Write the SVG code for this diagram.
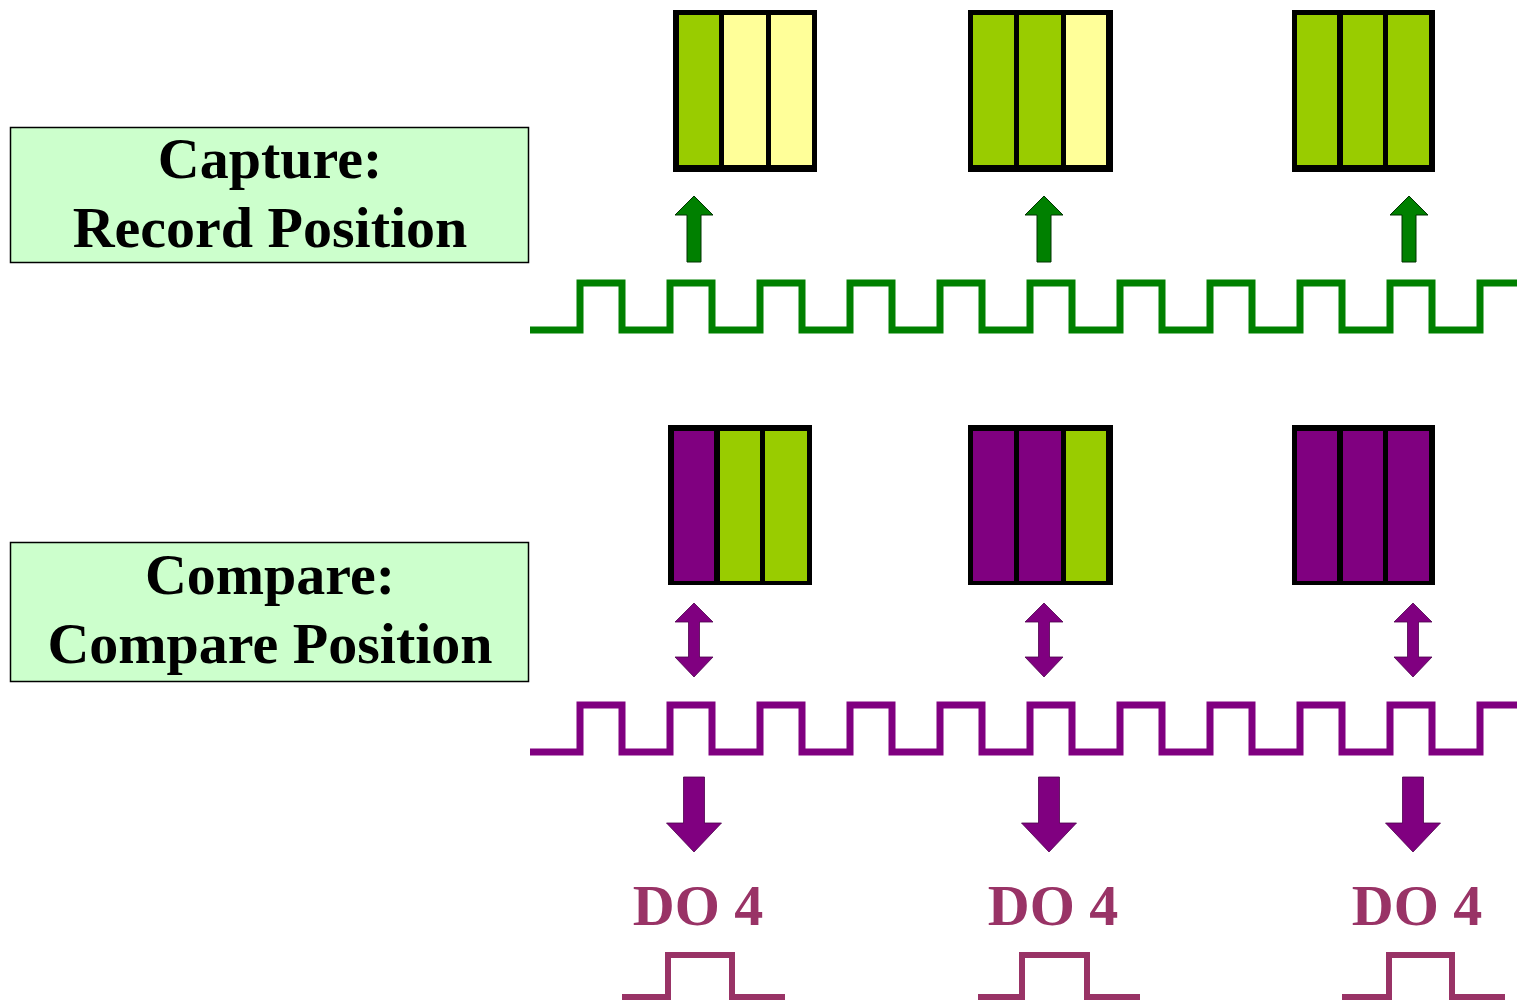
<svg xmlns="http://www.w3.org/2000/svg" xmlns:xlink="http://www.w3.org/1999/xlink" width="1517" height="1003" viewBox="0 0 1517 1003">
<style>
.label{fill:#CCFFCC;stroke:#000;stroke-width:1.5}
.lt{font-family:"Liberation Serif","Times New Roman",serif;font-weight:bold;font-size:58px;fill:#000;text-anchor:middle}
.do{font-family:"Liberation Serif","Times New Roman",serif;font-weight:bold;font-size:58px;fill:#993366;text-anchor:middle}
.frame{fill:#000}
.g{fill:#99CC00}
.y{fill:#FFFF99}
.p{fill:#800080}
.wg{fill:none;stroke:#008000;stroke-width:7;stroke-linejoin:miter}
.wp{fill:none;stroke:#800080;stroke-width:7;stroke-linejoin:miter}
.pulse{fill:none;stroke:#993366;stroke-width:6}
.ag{fill:#008000;stroke:#003300;stroke-width:1}
.ap{fill:#800080;stroke:#4d004d;stroke-width:0.8}
</style>
<defs>
<path id="up" class="ag" d="M0,196 L19,215 L7,215 L7,262 L-7,262 L-7,215 L-19,215 Z"/>
<path id="dbl" class="ap" d="M0,603 L19,622 L5.5,622 L5.5,657 L19,657 L0,677 L-19,657 L-5.5,657 L-5.5,622 L-19,622 Z"/>
<path id="down" class="ap" d="M-10.5,777 L10.5,777 L10.5,823 L27.5,823 L0,852 L-27.5,823 L-10.5,823 Z"/>
</defs>

<g id="capture-label">
<rect class="label" x="10.5" y="127.5" width="518" height="135"/>
<text class="lt" x="270" y="178">Capture:</text>
<text class="lt" x="270" y="247">Record Position</text>
</g>

<g id="compare-label">
<rect class="label" x="10.5" y="542.5" width="518" height="139"/>
<text class="lt" x="270" y="594">Compare:</text>
<text class="lt" x="270" y="663">Compare Position</text>
</g>

<g id="capture-reg-1">
<rect class="frame" x="673" y="10" width="144" height="162"/>
<rect class="g" x="679" y="15" width="40" height="150"/>
<rect class="y" x="724" y="15" width="42" height="150"/>
<rect class="y" x="771" y="15" width="41" height="150"/>
</g>
<g id="capture-reg-2">
<rect class="frame" x="968" y="10" width="145" height="162"/>
<rect class="g" x="973" y="15" width="41" height="150"/>
<rect class="g" x="1019" y="15" width="42" height="150"/>
<rect class="y" x="1066" y="15" width="40" height="150"/>
</g>
<g id="capture-reg-3">
<rect class="frame" x="1292" y="10" width="143" height="162"/>
<rect class="g" x="1297" y="15" width="40" height="150"/>
<rect class="g" x="1343" y="15" width="40" height="150"/>
<rect class="g" x="1388" y="15" width="41" height="150"/>
</g>

<g id="compare-reg-1">
<rect class="frame" x="668" y="425" width="144" height="160"/>
<rect class="p" x="674" y="431" width="40" height="150"/>
<rect class="g" x="720" y="431" width="40" height="150"/>
<rect class="g" x="765" y="431" width="42" height="150"/>
</g>
<g id="compare-reg-2">
<rect class="frame" x="968" y="425" width="145" height="160"/>
<rect class="p" x="973" y="431" width="41" height="150"/>
<rect class="p" x="1019" y="431" width="42" height="150"/>
<rect class="g" x="1066" y="431" width="40" height="150"/>
</g>
<g id="compare-reg-3">
<rect class="frame" x="1292" y="425" width="143" height="160"/>
<rect class="p" x="1297" y="431" width="40" height="150"/>
<rect class="p" x="1343" y="431" width="40" height="150"/>
<rect class="p" x="1388" y="431" width="41" height="150"/>
</g>

<g id="capture-wave">
<path class="wg" d="M530,330 H580 V283 H622 V330 H670 V283 H712 V330 H760 V283 H802 V330 H850 V283 H892 V330 H940 V283 H982 V330 H1030 V283 H1072 V330 H1120 V283 H1162 V330 H1210 V283 H1252 V330 H1300 V283 H1342 V330 H1390 V283 H1432 V330 H1480 V283 H1517"/>
</g>
<g id="compare-wave">
<path class="wp" d="M530,752 H580 V705 H622 V752 H670 V705 H712 V752 H760 V705 H802 V752 H850 V705 H892 V752 H940 V705 H982 V752 H1030 V705 H1072 V752 H1120 V705 H1162 V752 H1210 V705 H1252 V752 H1300 V705 H1342 V752 H1390 V705 H1432 V752 H1480 V705 H1517"/>
</g>

<g id="connectors">
<use xlink:href="#up" href="#up" transform="translate(694,0)"/>
<use xlink:href="#up" href="#up" transform="translate(1044,0)"/>
<use xlink:href="#up" href="#up" transform="translate(1409,0)"/>
<use xlink:href="#dbl" href="#dbl" transform="translate(694,0)"/>
<use xlink:href="#dbl" href="#dbl" transform="translate(1044,0)"/>
<use xlink:href="#dbl" href="#dbl" transform="translate(1413,0)"/>
<use xlink:href="#down" href="#down" transform="translate(694,0)"/>
<use xlink:href="#down" href="#down" transform="translate(1049,0)"/>
<use xlink:href="#down" href="#down" transform="translate(1413,0)"/>
</g>

<g id="do4-1">
<text class="do" x="698" y="925">DO 4</text>
<path class="pulse" d="M622,997 H668 V955 H732 V997 H785"/>
</g>
<g id="do4-2">
<text class="do" x="1053" y="925">DO 4</text>
<path class="pulse" d="M978,997 H1022 V955 H1087 V997 H1140"/>
</g>
<g id="do4-3">
<text class="do" x="1417" y="925">DO 4</text>
<path class="pulse" d="M1342,997 H1389 V955 H1452 V997 H1505"/>
</g>
</svg>
